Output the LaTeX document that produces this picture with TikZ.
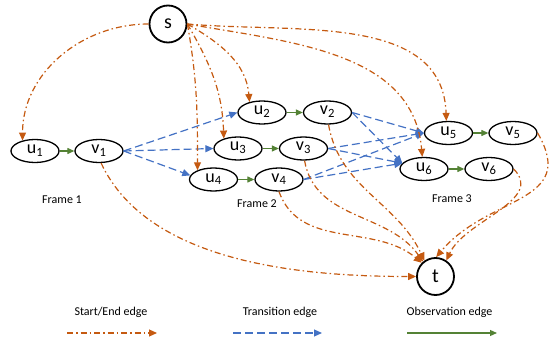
\documentclass[tikz,border=0pt]{standalone}
\usepackage{fontspec}
\setmainfont{Carlito}
\usetikzlibrary{arrows.meta,shapes.geometric}
\definecolor{sechue}{HTML}{C55A11}
\definecolor{trhue}{HTML}{4472C4}
\definecolor{obhue}{HTML}{548235}
\def\lbl#1#2{#1\textsubscript{#2}}

\begin{document}
\begin{tikzpicture}[x=1pt,y=1pt,
		state/.style={ellipse,draw,line width=1.3pt,minimum width=48pt,minimum height=23pt,inner sep=0pt,text height=7pt,text depth=2pt,font=\fontsize{18}{18}\selectfont},
		term/.style={circle,draw,line width=1.8pt,minimum size=37pt,inner sep=0pt,font=\fontsize{20}{20}\selectfont},
		seedge/.style={color=sechue,line width=1.2pt,dash pattern=on 6pt off 3pt on 1.5pt off 3pt,-{Triangle[width=7pt,length=8pt]}},
		tredge/.style={color=trhue,line width=1.2pt,dash pattern=on 8pt off 4pt,-{Triangle[width=7pt,length=8pt]}},
		obedge/.style={color=obhue,line width=1.2pt,-{Triangle[width=6pt,length=7pt]}},
		caption/.style={font=\fontsize{12}{14}\selectfont}]
			%%%%% START %%%%%
			\useasboundingbox (0, 0) rectangle (550, 341);
			
			\node[term] (s) at (168, 317) {s};
			\node[term] (t) at (435.5, 64.5) {t};
			
			\node[state] (u1) at (35, 190) {\lbl{u}{1}};
			\node[state] (v1) at (99, 190) {\lbl{v}{1}};
			\node[state] (u2) at (262, 228.5) {\lbl{u}{2}};
			\node[state] (v2) at (327.5, 228.5) {\lbl{v}{2}};
			\node[state] (u3) at (238, 192.5) {\lbl{u}{3}};
			\node[state] (v3) at (303.5, 192.5) {\lbl{v}{3}};
			\node[state] (u4) at (213.5, 161.5) {\lbl{u}{4}};
			\node[state] (v4) at (279, 161.5) {\lbl{v}{4}};
			\node[state] (u5) at (448.5, 208) {\lbl{u}{5}};
			\node[state] (v5) at (513, 208) {\lbl{v}{5}};
			\node[state] (u6) at (424, 172) {\lbl{u}{6}};
			\node[state] (v6) at (489, 172) {\lbl{v}{6}};
			
			\node[caption] (fr1) at (62, 141) {Frame 1};
			\node[caption] (fr2) at (257, 137) {Frame 2};
			\node[caption] (fr3) at (452, 142) {Frame 3};
			
			% observation
			\draw[obedge] (u1) -- (v1);
			\draw[obedge] (u2) -- (v2);
			\draw[obedge] (u3) -- (v3);
			\draw[obedge] (u4) -- (v4);
			\draw[obedge] (u5) -- (v5);
			\draw[obedge] (u6) -- (v6);
			
			% transition
			\draw[tredge] (v1.east) -- (u2.west);
			\draw[tredge] (v1.east) -- (u3.west);
			\draw[tredge] (v1.east) -- (u4.170);
			\draw[tredge] (v2.east) -- (u5.west);
			\draw[tredge] (v2.east) -- (u6.165);
			\draw[tredge] (v3.east) -- (u5.west);
			\draw[tredge] (v3.east) -- (u6.165);
			\draw[tredge] (v4.east) -- (u5.west);
			\draw[tredge] (v4.east) -- (u6.165);
			
			% start
			\draw[seedge] (s.west) to[out=180, in=90] (u1.140);
			\draw[seedge] (s.east) to[out=-30, in=95] (u2.140);
			\draw[seedge] (s.east) to[out=-60, in=92] (u3.145);
			\draw[seedge] (s.east) to[out=-80, in=90] (u4.150);
			\draw[seedge] (s.east) to[out=-5, in=92] (u5.100);
			\draw[seedge] (s.east) to[out=-10, in=95] (u6.98);
			
			% end
			\draw[seedge] (v1.-80) to[out=-65, in=180, looseness=0.85] (t.west);
			\draw[seedge] (v2.-85) to[out=-80, in=115] (t.125);
			\draw[seedge] (v3.-85) to[out=-80, in=125] (t.130);
			\draw[seedge] (v4.-90) to[out=-70, in=140] (t.135);
			\draw[seedge] (v5.east) to[out=-60, in=50, looseness=1.3] (t.88);
			\draw[seedge] (v6.east) to[out=-45, in=65] (t.56);
			
			% legend
			\node[caption] (lgse) at (111, 29) {Start/End edge};
			\node[caption] (lgtr) at (280, 29) {Transition edge};
			\node[caption] (lgob) at (449.5, 29) {Observation edge};
			\coordinate (se1) at (67, 8);
			\coordinate (se2) at (157, 8);
			\coordinate (tr1) at (233, 8);
			\coordinate (tr2) at (322, 8);
			\coordinate (ob1) at (407, 8);
			\coordinate (ob2) at (497, 8);
			\draw[seedge] (se1) -- (se2);
			\draw[tredge] (tr1) -- (tr2);
			\draw[obedge] (ob1) -- (ob2);
			
			%%%%% END %%%%%
		\end{tikzpicture}
\end{document}
